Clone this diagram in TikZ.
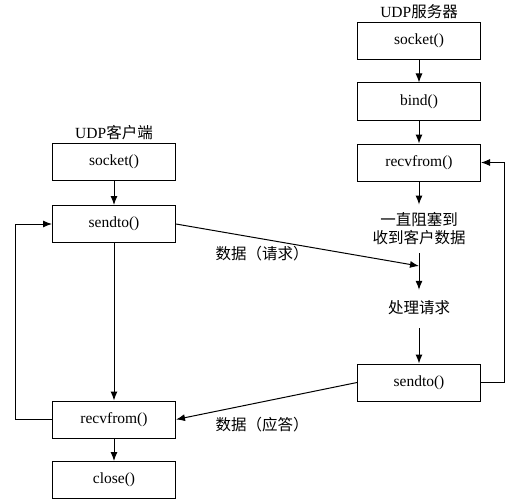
\documentclass[tikz,border=0pt]{standalone}
\usepackage{fontspec}
\setmainfont{Liberation Serif}
\newfontfamily\cjk{Noto Sans CJK SC}
\usetikzlibrary{arrows.meta}
\begin{document}
\begin{tikzpicture}[x=1pt,y=-1pt,font=\fontsize{15.5}{18}\selectfont,
  box/.style={draw,line width=1pt,minimum width=123pt,minimum height=37pt},
  cn/.style={font=\fontsize{15.5}{18}\selectfont\cjk,align=center},
  flow/.style={line width=1pt,-{Latex[length=9pt,width=7pt]}}]
 \useasboundingbox (0,0) rectangle (524,500);
 % client
 \node[name=ctitle] at (114,133) {UDP{\cjk 客户端}};
 \node[box,name=csocket] at (114,162) {socket()};
 \node[box,name=csend] at (114,224) {sendto()};
 \node[box,name=crecv] at (114,419.5) {recvfrom()};
 \node[box,name=cclose] at (114,480) {close()};
 % server
 \node[name=stitle] at (419,12) {UDP{\cjk 服务器}};
 \node[box,name=ssocket] at (419,41) {socket()};
 \node[box,name=sbind] at (419,101.5) {bind()};
 \node[box,name=srecv] at (419,162.5) {recvfrom()};
 \node[cn,inner ysep=8pt,name=wait] at (419,229) {一直阻塞到\\收到客户数据};
 \node[cn,text height=11pt,text depth=3pt,inner ysep=12pt,name=proc] at (419,309) {处理请求};
 \node[box,name=ssend] at (419,382.5) {sendto()};
 \coordinate (req) at (419,266);
 % data labels
 \node[cn,name=reqlabel] at (262,254) {数据（请求）};
 \node[cn,name=resplabel] at (262,425) {数据（应答）};
 \draw[flow] (csocket) -- (csend);
 \draw[flow] (csend) -- (crecv);
 \draw[flow] (crecv) -- (cclose);
 \draw[flow] (crecv.west) -- ++(-37,0) |- (csend.west);
 \draw[flow] (ssocket) -- (sbind);
 \draw[flow] (sbind) -- (srecv);
 \draw[flow] (srecv) -- (wait);
 \draw[flow] (wait.south) -- (proc.north);
 \draw[flow] (proc) -- (ssend);
 \draw[flow] (ssend.east) -- ++(23,0) |- (srecv.east);
 \draw[flow] (csend.east) -- (req);   % request
 \draw[flow] (ssend.west) -- (crecv.east);   % reply
\end{tikzpicture}
\end{document}
